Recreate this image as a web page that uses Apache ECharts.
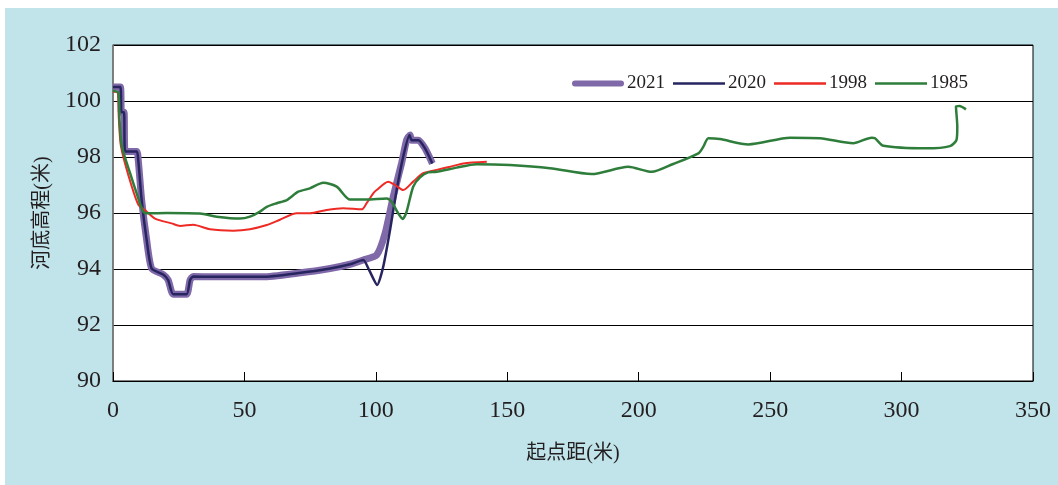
<!DOCTYPE html>
<html>
<head>
<meta charset="utf-8">
<script src="https://cdn.jsdelivr.net/npm/echarts@6/dist/echarts.min.js"></script>
<style>
  html, body { margin: 0; padding: 0; background: #fff; }
  #chart { position: absolute; left: 5px; top: 8px; width: 1053px; height: 477px; }
</style>
</head>
<body>
<div id="chart"></div>
<script>
// 起点距 / 高程
var x2021 = [0, 2.8, 3.2, 4.2, 4.6, 9.0, 9.6, 10.9, 12.8, 14.7, 19.1, 21.0, 22.9, 28.0, 29.3, 30.5, 38, 57, 70, 82.6, 90.2, 95.2, 100.3, 103.5, 106.6, 109.8, 111.7, 113, 113.6, 116.2, 118.7, 121.5];
var y2021 = [100.5, 100.5, 99.6, 99.6, 98.2, 98.2, 97.9, 96.46, 95.04, 94.02, 93.8, 93.6, 93.1, 93.1, 93.6, 93.73, 93.72, 93.72, 93.85, 94.02, 94.17, 94.32, 94.5, 95.27, 96.58, 97.78, 98.61, 98.79, 98.6, 98.6, 98.31, 97.77];

var x2020 = [0, 2.8, 3.2, 4.2, 4.6, 9.0, 9.6, 10.9, 12.8, 14.7, 19.1, 21.0, 22.9, 28.0, 29.3, 30.5, 38, 57, 70, 82.6, 90.2, 95.2, 97.5, 100.5, 102.8, 105.4, 107.9, 110.4, 112.8, 113.6, 116.2, 118.7, 121.5];
var y2020 = [100.5, 100.5, 99.6, 99.6, 98.2, 98.2, 97.9, 96.46, 95.04, 94.02, 93.8, 93.6, 93.1, 93.1, 93.6, 93.73, 93.72, 93.72, 93.85, 94.02, 94.17, 94.32, 93.95, 93.43, 94.08, 95.39, 96.82, 98.01, 98.79, 98.6, 98.6, 98.31, 97.77];

var x1998 = [0, 1.8, 2.2, 3.0, 6.0, 9.6, 12.2, 16, 22.3, 25.5, 30.5, 36.9, 45.8, 52.1, 58.5, 63.5, 69.9, 74.9, 81.3, 87.6, 94.6, 96.5, 99.0, 100.3, 104.7, 107.3, 110.4, 114.2, 118, 123.1, 128.2, 133.3, 142.2];
var y1998 = [100.33, 100.3, 99.4, 98.4, 97.3, 96.3, 96.1, 95.8, 95.63, 95.54, 95.58, 95.42, 95.37, 95.42, 95.57, 95.76, 95.99, 95.99, 96.11, 96.17, 96.13, 96.35, 96.7, 96.82, 97.12, 97.0, 96.82, 97.12, 97.42, 97.54, 97.65, 97.77, 97.83];

var x1985 = [0, 2.0, 2.5, 3.3, 6.5, 9.0, 11.5, 13.4, 20.4, 33.1, 39.4, 48.3, 52.1, 55.9, 58.5, 62.3, 66.1, 70.5, 74.9, 80.0, 85.1, 90.2, 96.5, 104.1, 106, 108.5, 110.2, 111.7, 114.2, 116.8, 119.9, 123.1, 130.7, 138.3, 151, 166.2, 182.1, 196.0, 204.9, 213.1, 222.7, 224.6, 226.5, 230.9, 241.7, 257.6, 269.0, 281.6, 288.6, 289.9, 293.1, 309.5, 318.4, 320.9, 321.2, 320.7, 322, 324.5];
var y1985 = [100.37, 100.3, 99.3, 98.4, 97.42, 96.7, 96.05, 95.99, 96.0, 95.98, 95.87, 95.8, 95.87, 96.05, 96.22, 96.35, 96.46, 96.76, 96.88, 97.08, 96.94, 96.48, 96.48, 96.52, 96.4, 95.99, 95.79, 96.05, 96.94, 97.27, 97.45, 97.47, 97.62, 97.74, 97.71, 97.6, 97.39, 97.65, 97.47, 97.75, 98.13, 98.37, 98.67, 98.64, 98.45, 98.69, 98.67, 98.49, 98.69, 98.67, 98.4, 98.31, 98.39, 98.61, 99.08, 99.8, 99.82, 99.7];

var names = ['2021', '2020', '1998', '1985'];

function pairs(xs, ys) {
    var out = [];
    for (var i = 0; i < xs.length; i++) out.push([xs[i], ys[i]]);
    return out;
}

// flat bar icons for the legend (thick one for 2021)
var thickIcon = 'path://M3,0 L49,0 A3,3 0 0 1 49,6 L3,6 A3,3 0 0 1 3,0 Z';
var thinIcon = 'path://M0,0 L52,0 L52,2.5 L0,2.5 Z';

var font = "'Liberation Serif', 'Noto Sans CJK SC', serif";
var chart = echarts.init(document.getElementById('chart'));

chart.setOption({
    backgroundColor: '#c1e4eb',
    animation: false,
    textStyle: { fontFamily: font },
    grid: {
        left: 108, top: 37, right: 25, bottom: 104,
        show: true, backgroundColor: '#fff', borderColor: '#000', borderWidth: 1
    },
    legend: {
        data: [
            { name: '2021', icon: thickIcon },
            { name: '2020', icon: thinIcon },
            { name: '1998', icon: thinIcon },
            { name: '1985', icon: thinIcon }
        ],
        right: 85, top: 61,
        itemWidth: 52, itemHeight: 14, itemGap: 8,
        textStyle: { fontFamily: font, fontSize: 19, color: '#231f20', padding: [0, 0, 0, -2] }
    },
    xAxis: {
        type: 'value',
        min: 0, max: 350, interval: 50,
        name: '起点距(米)',
        nameLocation: 'middle',
        nameGap: 63,
        nameTextStyle: { fontFamily: font, fontSize: 20, color: '#231f20' },
        axisLine: { lineStyle: { color: '#000', width: 1 } },
        axisTick: { inside: true, length: 9, lineStyle: { color: '#000' } },
        axisLabel: { fontFamily: font, fontSize: 24, color: '#231f20', margin: 18 },
        splitLine: { show: false }
    },
    yAxis: {
        type: 'value',
        min: 90, max: 102, interval: 2,
        name: '河底高程(米)',
        nameLocation: 'middle',
        nameGap: 60,
        nameTextStyle: { fontFamily: font, fontSize: 20, color: '#231f20' },
        axisLine: { show: true, lineStyle: { color: '#808080', width: 1.5 } },
        axisTick: { show: false },
        axisLabel: { fontFamily: font, fontSize: 24, color: '#231f20', margin: 12 },
        splitLine: { lineStyle: { color: '#000', width: 1 } }
    },
    series: [
        {
            name: '2021', type: 'line', data: pairs(x2021, y2021),
            symbol: 'none', smooth: 0.2,
            lineStyle: { color: '#8069a9', width: 7 },
            itemStyle: { color: '#8069a9' }
        },
        {
            name: '2020', type: 'line', data: pairs(x2020, y2020),
            symbol: 'none', smooth: 0.2,
            lineStyle: { color: '#27255f', width: 2.5 },
            itemStyle: { color: '#27255f' }
        },
        {
            name: '1998', type: 'line', data: pairs(x1998, y1998),
            symbol: 'none', smooth: 0.25,
            lineStyle: { color: '#ee2a24', width: 2 },
            itemStyle: { color: '#ee2a24' }
        },
        {
            name: '1985', type: 'line', data: pairs(x1985, y1985),
            symbol: 'none', smooth: 0.25,
            lineStyle: { color: '#2e7d3b', width: 2.5 },
            itemStyle: { color: '#2e7d3b' }
        }
    ]
});
</script>
</body>
</html>
